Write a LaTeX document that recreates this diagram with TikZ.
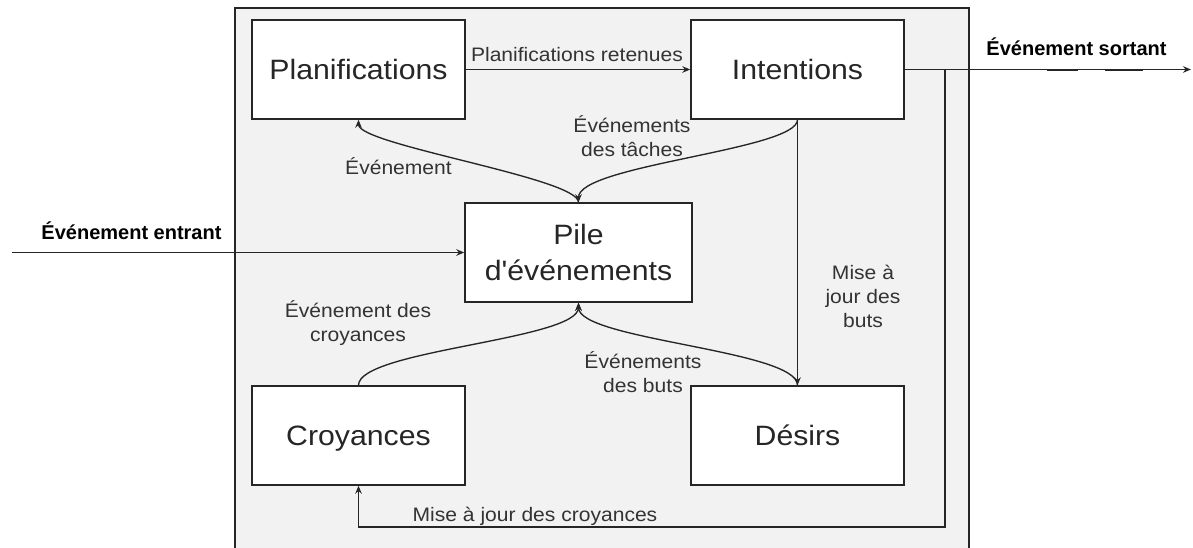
\documentclass[tikz,border=0pt]{standalone}
\usepackage{fontspec}
\setmainfont{Liberation Sans}[FakeStretch=1.08,Ligatures=TeXOff]
\newfontfamily\iofont{Liberation Sans}[Ligatures=TeXOff]
\usetikzlibrary{arrows.meta}

\definecolor{ink}{HTML}{262626}
\definecolor{labelink}{HTML}{333333}
\definecolor{panel}{HTML}{F2F2F2}

\begin{document}
\begin{tikzpicture}[x=1pt,y=-1pt,
  block/.style={draw=ink, line width=1.4pt, fill=white,
    minimum width=213pt, minimum height=99pt, inner sep=0pt,
    align=center, text=ink, font=\fontsize{28}{36}\selectfont},
  oneline/.style={text depth=0pt},
  flow/.style={draw=ink, line width=1.35pt, -{Stealth[length=8pt,width=6.5pt]}},
  lab/.style={text=labelink, font=\fontsize{19.5}{24}\selectfont,
    align=center, inner sep=0pt},
  iolab/.style={text=black, font=\iofont\bfseries\fontsize{20}{24}\selectfont,
    inner sep=0pt}]

\useasboundingbox (0,0) rectangle (1193,548);
\clip (0,0) rectangle (1193,548);
\fill[white] (0,0) rectangle (1193,548);

% agent container
\draw[ink, fill=panel, line width=1.3pt] (235,8) rectangle (969,570);

% components
\node[block, oneline] (plan)   at (358.5,69.5)  {Planifications};
\node[block, oneline] (intent) at (797.5,69.5)  {Intentions};
\node[block, minimum width=227pt] (pile) at (578.5,252.5) {Pile\\d'événements};
\node[block, oneline] (croy)   at (358.5,435.5) {Croyances};
\node[block, oneline] (desir)  at (797.5,435.5) {Désirs};

% external endpoints and routing points
\coordinate (inbeg)  at (12,252.5);
\coordinate (outend) at (1191,69.5);
\coordinate (split)  at (945,69.5);
\coordinate (corner) at (945,527);

% straight connectors
\draw[flow] (plan.east) -- (intent.west);
\draw[flow] (intent.east) -- (outend);
\draw[flow] (inbeg) -- (pile.west);
\draw[flow] (intent.south) -- (desir.north);
\draw[flow] (split) -- (corner) -| (croy.south);

% curved connectors
\draw[flow] (pile.north) .. controls (578.5,178) and (358.5,145) .. (plan.south);
\draw[flow] (intent.south) .. controls (797.5,150) and (578.5,165) .. (pile.north);
\draw[flow] (croy.north) .. controls (358.5,350) and (578.5,340) .. (pile.south);
\draw[flow] (desir.north) .. controls (797.5,350) and (578.5,340) .. (pile.south);

% marks under the outgoing label
\draw[ink, line width=2pt] (1047,70.5) -- (1078,70.5);
\draw[ink, line width=2pt] (1105,70.5) -- (1143,70.5);

% labels
\node[lab, anchor=base] (lretenues) at (577,62) {Planifications retenues};
\node[lab, anchor=base] (levt) at (398.5,175) {Événement};
\node[lab] (ltaches) at (632,136) {Événements\\des tâches};
\node[lab] (lcroy) at (358,323.5) {Événement des\\croyances};
\node[lab] (lbuts) at (643,372) {Événements\\des buts};
\node[lab] (lmaj) at (863,296) {Mise à\\jour des\\buts};
\node[lab, anchor=base] (lmajc) at (535,521) {Mise à jour des croyances};
\node[iolab, anchor=base] (lout) at (1076.5,56) {Événement sortant};
\node[iolab, anchor=base] (lin) at (131.5,239) {Événement entrant};

\end{tikzpicture}
\end{document}
